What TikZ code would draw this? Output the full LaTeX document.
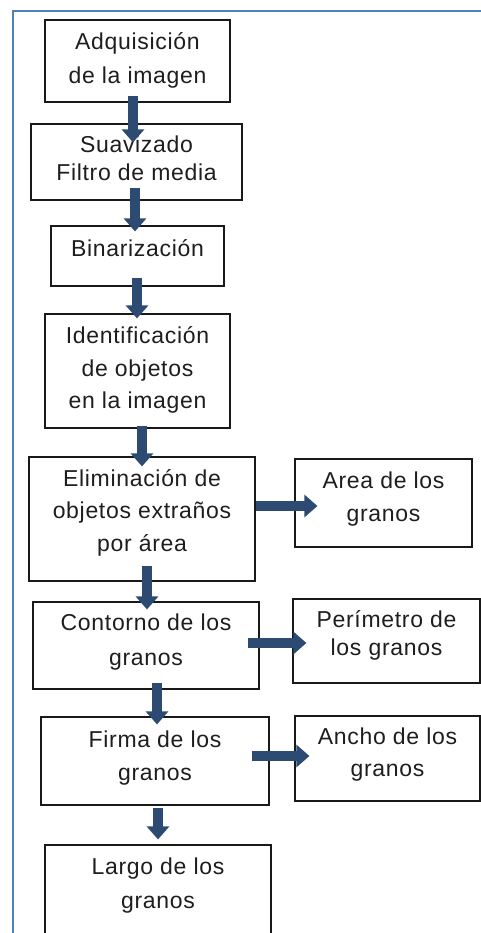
\documentclass[tikz,border=0pt]{standalone}
\usepackage{fontspec}
\setmainfont{Liberation Sans}[LetterSpace=3]
\usetikzlibrary{arrows.meta}
\definecolor{framebl}{HTML}{4F81BD}
\definecolor{arrowbl}{HTML}{2C4A72}
\definecolor{txt}{HTML}{1E1E1E}
\newcommand\bxt[3][33]{\raisebox{#2pt}[\height][\depth]{\fontsize{23}{#1}\selectfont\begin{tabular}{@{}c@{}}#3\end{tabular}}}
\tikzset{
  stepbox/.style={draw=black!90, line width=1.2pt, fill=white, text=txt,
    inner sep=0pt, anchor=center},
  flow/.style={line width=10pt, draw=arrowbl, -{Triangle[width=22pt,length=13pt]}},
}
\begin{document}
\begin{tikzpicture}[x=1pt,y=1pt]
\useasboundingbox (0,0) rectangle (481,-933);
\fill[white] (0,0) rectangle (481,-933);
\draw[framebl, line width=2pt] (13,-935) -- (13,-11) -- (482,-11);

\node[stepbox, minimum width=185pt, minimum height=82pt] (n1) at (137.5,-61) {\bxt[34]{1}{Adquisición\\de la imagen}};
\node[stepbox, minimum width=211pt, minimum height=76pt] (n2) at (136.5,-162) {\bxt[28]{1}{Suavizado\\Filtro de media}};
\node[stepbox, minimum width=173pt, minimum height=60pt] (n3) at (137.5,-256) {\bxt{6}{Binarización}};
\node[stepbox, minimum width=185pt, minimum height=114pt] (n4) at (137.5,-371) {\bxt[32.5]{1.5}{Identificación\\de objetos\\en la imagen}};
\node[stepbox, minimum width=226pt, minimum height=124pt] (n5) at (142,-519) {\bxt[32.5]{7}{Eliminación de\\objetos extraños\\por área}};
\node[stepbox, minimum width=177pt, minimum height=88pt] (nA) at (383.5,-503) {\bxt{4.5}{Area de los\\granos}};
\node[stepbox, minimum width=226pt, minimum height=87pt] (n6) at (146,-645.5) {\bxt[35]{4.5}{Contorno de los\\granos}};
\node[stepbox, minimum width=187pt, minimum height=84pt] (nP) at (386.5,-641) {\bxt[28]{5}{Perímetro de\\los granos}};
\node[stepbox, minimum width=228pt, minimum height=88pt] (n7) at (155,-761) {\bxt{4}{Firma de los\\granos}};
\node[stepbox, minimum width=185pt, minimum height=85pt] (nN) at (387.5,-758.5) {\bxt[32]{4.5}{Ancho de los\\granos}};
\node[stepbox, minimum width=226pt, minimum height=95pt] (n8) at (158,-892.5) {\bxt[34]{7.5}{Largo de los\\granos}};

% vertical arrows
\draw[flow] ([xshift=-4.5pt,yshift=7pt]n1.south) -- ([xshift=-3.5pt,yshift=-19pt]n2.north);
\draw[flow] ([xshift=-1.5pt,yshift=13pt]n2.south) -- ([xshift=-2.5pt,yshift=-6pt]n3.north);
\draw[flow] ([xshift=-0.5pt,yshift=9pt]n3.south) -- ([xshift=-0.5pt,yshift=-5pt]n4.north);
\draw[flow] ([xshift=4.5pt,yshift=3pt]n4.south) -- ([xshift=0pt,yshift=-10pt]n5.north);
\draw[flow] ([xshift=5pt,yshift=16pt]n5.south) -- ([xshift=1pt,yshift=-8pt]n6.north);
\draw[flow] ([xshift=11pt,yshift=7pt]n6.south) -- ([xshift=2pt,yshift=-8pt]n7.north);
\draw[flow] ([xshift=3pt,yshift=-2pt]n7.south) -- ([xshift=0pt,yshift=5pt]n8.north);
% horizontal arrows
\draw[flow] ([xshift=0pt,yshift=13pt]n5.east) -- ([xshift=23pt,yshift=-3pt]nA.west);
\draw[flow] ([xshift=-12pt,yshift=2.5pt]n6.east) -- ([xshift=14pt,yshift=-2pt]nP.west);
\draw[flow] ([xshift=-18pt,yshift=5pt]n7.east) -- ([xshift=15pt,yshift=2.5pt]nN.west);
\end{tikzpicture}
\end{document}
